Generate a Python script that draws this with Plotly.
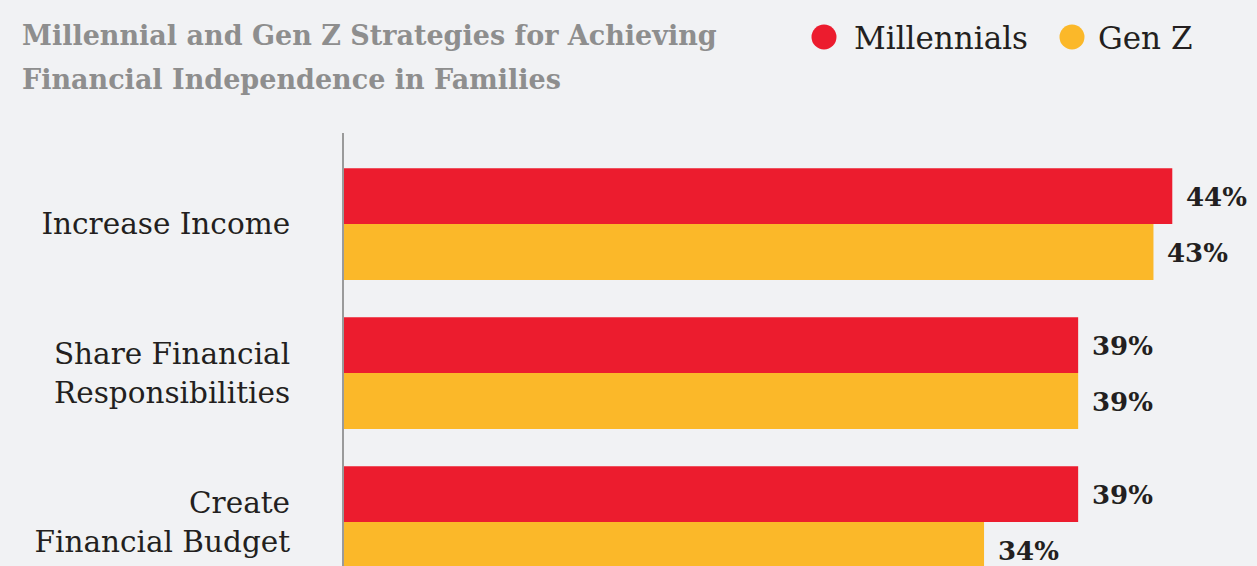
import plotly.graph_objects as go

categories = ["Increase Income", "Share Financial<br>Responsibilities", "Create<br>Financial Budget"]
millennials = [44, 39, 39]
gen_z = [43, 39, 34]
series_names = ["Millennials", "Gen Z"]
colors = ["#EC1C2E", "#FBB829"]

W, H = 1257, 566
ML, MT = 344, 133
PW, PH = W - ML, H - MT
BG = "#F1F2F4"
SERIF = "DejaVu Serif"
TEXT = "#231F20"


def px_x(x):
    return (x - ML) / PW


def px_y(y):
    return (H - y) / PH


fig = go.Figure()
for name, vals, col in zip(series_names, [millennials, gen_z], colors):
    fig.add_trace(go.Bar(
        y=categories, x=vals, name=name, orientation="h",
        marker=dict(color=col, line=dict(width=0)),
        showlegend=False, hoverinfo="skip",
    ))

# value labels to the right of each bar
for k, vals in enumerate([millennials, gen_z]):
    for i, v in enumerate(vals):
        fig.add_annotation(
            x=v, y=i, xref="x", yref="y",
            text=f"<b>{v}%</b>", showarrow=False,
            xanchor="left", yanchor="middle",
            xshift=12, yshift=(28 if k == 0 else -28) - 1,
            font=dict(family=SERIF, size=26, color=TEXT),
        )

# title, one annotation per line
title_lines = ["Millennial and Gen Z Strategies for Achieving",
               "Financial Independence in Families"]
for line, yc in zip(title_lines, [35, 79]):
    fig.add_annotation(
        x=px_x(20), y=px_y(yc), xref="paper", yref="paper",
        xanchor="left", yanchor="middle", align="left", showarrow=False,
        text=f"<b>{line}</b>",
        font=dict(family=SERIF, size=27, color="#8E8E8E"),
    )

# legend with round markers
legend_items = [(824, 852), (1072, 1096)]
for (cx, tx), name, col in zip(legend_items, series_names, colors):
    r = 12.5
    fig.add_shape(type="circle", xref="paper", yref="paper",
                  x0=px_x(cx - r), x1=px_x(cx + r),
                  y0=px_y(37 + r), y1=px_y(37 - r),
                  fillcolor=col, line=dict(width=0))
    fig.add_annotation(x=px_x(tx), y=px_y(38), xref="paper", yref="paper",
                       xanchor="left", yanchor="middle", showarrow=False,
                       text=name, font=dict(family=SERIF, size=31, color=TEXT))

fig.update_layout(
    width=W, height=H,
    paper_bgcolor=BG, plot_bgcolor=BG,
    margin=dict(l=ML, r=0, t=MT, b=0),
    barmode="group", bargap=0.25, bargroupgap=0,
    xaxis=dict(range=[0, 48.5], visible=False, fixedrange=True),
    yaxis=dict(
        range=[2.295, -0.611], showgrid=False, zeroline=False,
        showline=True, linecolor="#9A9A9A", linewidth=2,
        ticks="", ticklabelstandoff=46,
        tickfont=dict(family=SERIF, size=29.5, color=TEXT),
        fixedrange=True,
    ),
)

fig.write_html("out.html")
